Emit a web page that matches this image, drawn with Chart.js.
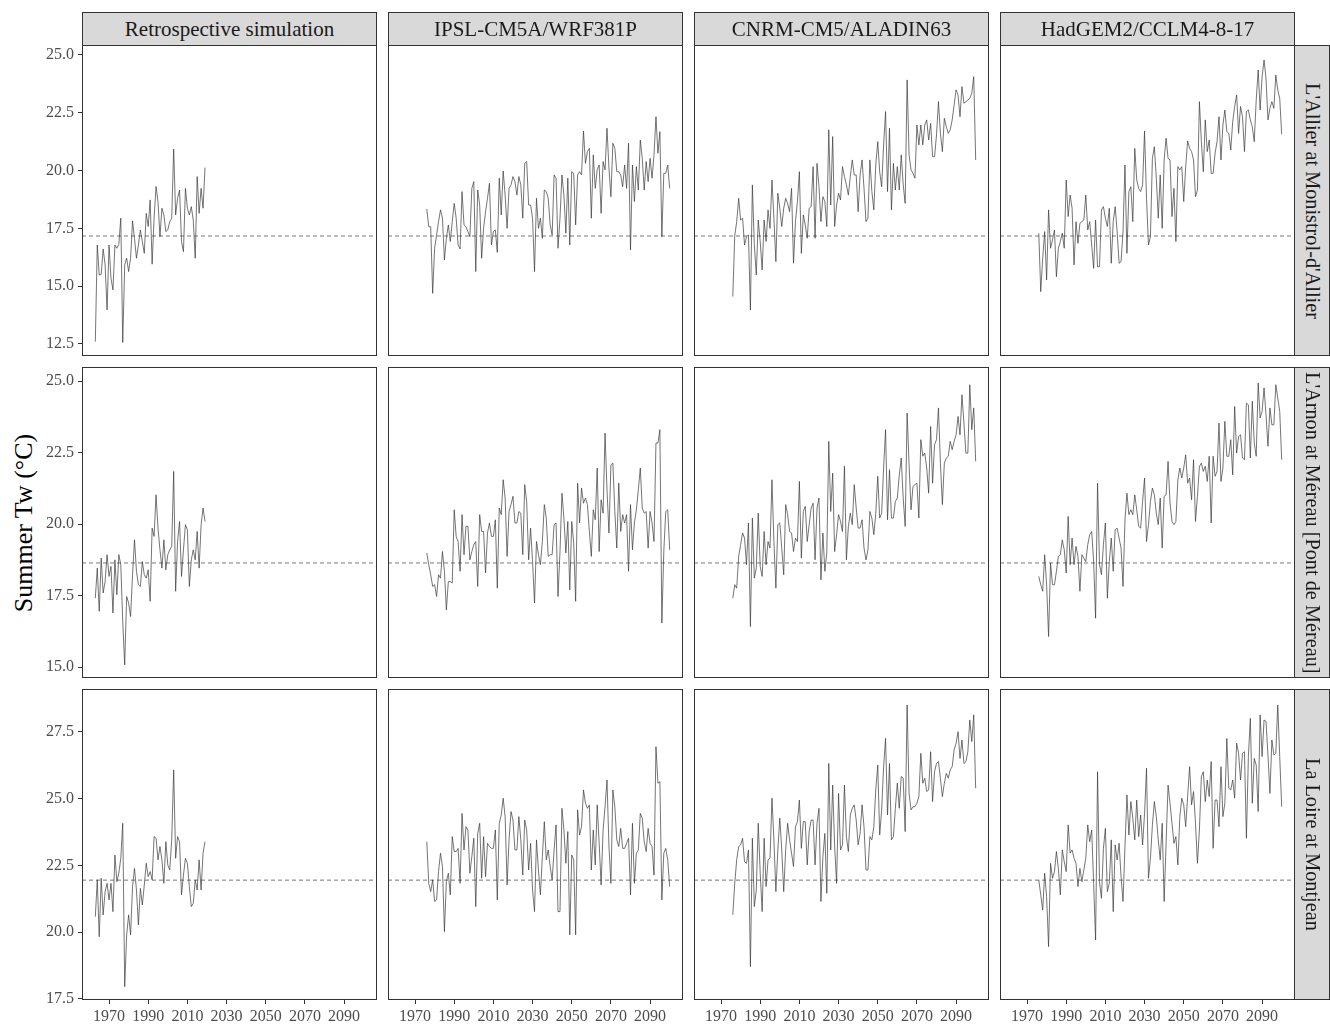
<!DOCTYPE html>
<html>
<head>
<meta charset="utf-8">
<script src="https://cdn.jsdelivr.net/npm/chart.js@4.4.0/dist/chart.umd.min.js"></script>
<style>
  body { margin: 0; background: #fff; font-family: "Liberation Serif", "Times New Roman", serif; }
  #fig { position: relative; width: 1330px; height: 1028px; overflow: hidden; }
  .panel { position: absolute; }
  .strip {
    position: absolute; background: #d9d9d9; border: 1px solid #333; box-sizing: border-box;
    color: #1a1a1a; font-size: 21px; display: flex; align-items: center; justify-content: center;
    white-space: nowrap; overflow: hidden;
  }
  .vstrip { writing-mode: vertical-rl; font-size: 20.3px; }
  #ytitle {
    position: absolute; left: -126px; top: 507px; width: 300px; height: 32px; line-height: 32px;
    text-align: center; font-size: 26px; color: #000; transform: rotate(-90deg);
  }
</style>
</head>
<body>
<div id="fig">
  <div id="ytitle">Summer Tw (°C)</div>
</div>
<script>
// years on the x axis
const yearsRetro = [];
for (let y = 1963; y <= 2019; y++) yearsRetro.push(y);
const yearsProj = [];
for (let y = 1976; y <= 2100; y++) yearsProj.push(y);

const models = ['Retrospective simulation', 'IPSL-CM5A/WRF381P', 'CNRM-CM5/ALADIN63', 'HadGEM2/CCLM4-8-17'];
const stations = ["L'Allier at Monistrol-d'Allier", "L'Arnon at Méreau [Pont de Méreau]", 'La Loire at Montjean'];

// dashed reference level per station
const refLevel = [17.17, 18.64, 21.95];

const xTicks = [1970, 1990, 2010, 2030, 2050, 2070, 2090];
const yTicks = [
  [12.5, 15, 17.5, 20, 22.5, 25],
  [15, 17.5, 20, 22.5, 25],
  [17.5, 20, 22.5, 25, 27.5]
];

// --- L'Allier at Monistrol-d'Allier
const retroAllier = [12.60,16.78,15.48,15.51,16.61,15.92,13.97,16.78,15.34,14.84,
  16.78,16.64,16.81,17.94,12.56,15.92,16.21,15.63,16.21,17.82,
  17.07,16.21,16.78,17.43,16.93,16.42,18.15,17.58,18.73,15.95,
  17.94,19.31,18.66,17.14,18.37,18.08,17.36,17.43,17.79,17.94,
  20.93,18.08,18.80,19.16,16.93,16.49,19.23,18.37,18.08,18.44,
  17.86,16.21,19.74,18.15,19.23,18.37,20.13];
const ipslAllier = [18.34,17.57,17.57,14.69,16.64,17.21,17.79,18.30,17.94,16.13,
  17.07,17.65,16.93,17.79,18.58,17.94,16.78,16.61,19.09,17.65,
  17.57,17.36,17.14,19.23,19.52,15.63,19.16,18.51,16.21,17.50,
  18.22,18.80,19.45,16.78,17.36,17.43,16.46,19.67,18.08,19.98,
  18.94,17.50,19.23,19.38,19.74,19.52,18.94,19.74,19.38,17.94,
  20.31,20.39,18.51,18.51,17.94,15.63,18.80,17.50,17.94,17.07,
  19.16,19.09,18.80,17.65,17.21,19.81,19.67,16.64,17.94,19.81,
  18.94,17.29,19.67,16.78,19.95,19.88,17.65,19.81,19.95,19.81,
  21.71,20.31,20.82,20.96,17.94,20.68,19.23,20.03,20.24,18.15,
  20.39,20.03,21.83,20.10,18.87,21.18,20.96,19.95,19.95,19.81,
  19.30,20.24,19.23,21.18,16.57,20.24,18.66,20.17,19.16,21.32,
  20.53,19.16,20.39,19.52,20.53,19.67,20.68,22.33,20.75,21.68,
  17.14,19.88,19.88,20.24,19.23];
const cnrmAllier = [14.55,17.18,17.79,18.80,17.86,17.94,16.78,17.14,17.21,13.97,
  19.38,16.78,15.48,17.86,16.93,15.70,17.86,16.93,18.30,17.50,
  19.59,17.94,16.06,19.02,18.37,17.58,18.37,18.80,18.58,18.22,
  19.23,15.99,17.79,18.66,19.95,16.42,18.08,17.65,17.07,18.37,
  18.44,20.17,17.07,20.31,19.30,17.79,18.87,18.66,17.58,21.76,
  18.51,21.47,17.58,18.51,19.02,18.73,20.17,19.74,19.38,18.94,
  19.74,20.46,19.81,19.81,18.22,19.81,20.46,19.23,17.79,17.94,
  20.46,19.09,18.30,20.24,21.25,19.95,19.30,21.11,22.55,19.09,
  21.83,18.30,20.31,19.16,20.17,19.16,20.68,19.38,18.58,23.92,
  20.68,20.03,19.88,19.67,21.97,21.11,21.97,21.11,21.97,22.19,
  21.32,22.04,20.60,20.60,21.54,22.98,21.61,20.82,22.26,21.90,
  21.61,21.76,22.19,22.84,23.49,23.27,22.33,23.63,22.91,22.98,
  23.05,23.12,23.34,24.06,20.46];
const hadgemAllier = [17.29,14.76,16.21,17.36,15.27,18.30,16.64,17.00,17.43,15.41,
  16.64,16.93,17.29,16.64,19.59,18.01,18.94,18.37,15.92,17.79,
  16.85,17.72,17.79,17.86,18.94,17.43,17.79,16.78,15.77,17.86,
  15.84,15.84,18.30,18.44,17.94,17.58,18.37,15.99,17.79,18.44,
  17.36,15.99,16.06,17.36,20.24,16.42,19.09,19.30,17.79,20.96,
  19.59,19.23,19.09,19.38,21.71,18.80,16.78,17.14,20.53,21.03,
  19.67,17.94,19.81,17.50,20.46,21.40,20.53,20.46,18.01,19.23,
  16.93,20.17,20.03,20.17,18.66,20.17,21.28,20.96,20.82,20.46,
  18.87,19.16,22.98,21.25,19.95,22.19,20.82,21.32,19.88,19.88,
  20.75,21.25,22.33,20.46,21.97,22.62,21.68,21.61,20.89,22.12,
  22.77,23.27,21.61,22.77,22.33,20.82,22.55,22.62,22.19,21.90,
  21.25,23.05,24.35,22.62,24.06,24.78,23.99,22.19,22.69,22.98,
  22.69,24.13,23.49,23.12,21.57];

// --- L'Arnon at Méreau
const retroArnon = [17.41,18.46,16.95,18.81,17.59,17.99,18.93,18.17,18.52,16.89,
  18.75,17.53,18.93,18.58,16.60,15.08,17.47,17.24,16.77,18.23,
  19.45,18.35,17.88,17.82,18.69,18.23,18.11,18.40,17.30,19.86,
  19.57,21.02,19.86,19.10,18.46,19.45,18.40,18.93,19.10,19.22,
  21.84,17.65,19.39,20.09,18.17,19.10,19.98,19.80,17.82,18.75,
  19.10,18.75,19.74,18.46,19.98,20.56,20.09];
const ipslArnon = [18.99,18.58,18.23,17.82,17.88,17.47,18.23,18.11,19.04,18.35,
  17.00,17.99,17.99,17.94,20.50,19.57,19.39,18.35,20.33,18.93,
  19.92,19.92,18.75,19.04,19.28,19.39,17.82,20.33,19.74,19.74,
  18.29,19.69,20.04,19.57,19.57,20.15,17.76,20.56,20.33,21.55,
  20.91,18.87,20.44,20.68,20.97,20.04,20.04,20.44,20.38,18.93,
  21.38,20.79,18.75,19.86,18.69,17.24,19.39,18.93,18.58,19.39,
  20.68,20.21,18.87,18.93,18.93,19.98,20.04,17.47,19.04,21.08,
  20.21,18.99,20.09,17.70,20.09,19.34,17.30,21.43,20.04,21.26,
  20.73,20.91,20.68,19.74,18.87,20.50,20.15,21.96,19.04,20.85,
  20.38,23.18,21.20,19.69,22.07,22.13,20.44,19.16,21.43,19.74,
  20.33,20.04,20.33,18.35,20.68,19.10,20.04,20.50,21.20,21.96,
  20.56,20.38,20.44,19.16,20.44,20.04,19.39,22.83,22.83,23.30,
  16.54,19.04,20.44,20.50,19.10];
const cnrmArnon = [17.41,17.88,17.76,18.87,19.28,19.69,19.51,18.58,20.04,16.42,
  20.21,18.11,18.46,20.38,18.52,18.17,19.74,18.58,19.39,19.16,
  21.55,19.39,17.76,19.98,20.04,19.16,18.23,20.68,20.33,19.74,
  19.69,19.04,19.51,19.39,21.49,18.81,20.44,20.62,19.39,19.98,
  20.56,20.73,18.75,20.56,20.91,18.05,19.69,18.35,18.99,22.89,
  20.44,21.78,19.04,19.63,20.33,20.09,19.74,22.02,18.75,19.92,
  20.38,19.98,21.38,20.56,19.86,19.86,20.15,19.16,18.75,19.10,
  20.44,20.21,19.63,20.38,21.67,20.21,20.38,21.96,23.30,20.15,
  21.90,20.21,20.21,20.79,20.91,21.72,22.31,20.91,19.92,23.88,
  22.07,20.50,21.32,21.38,21.43,20.21,22.95,22.37,22.48,21.96,
  21.08,23.41,21.43,22.77,22.95,24.06,22.13,20.68,22.13,22.31,
  22.37,22.89,22.60,22.89,23.12,23.76,23.12,24.52,23.53,22.48,
  22.48,24.87,23.30,24.06,22.19];
const hadgemArnon = [18.17,17.88,17.65,18.93,17.88,16.07,18.64,17.88,17.88,18.35,
  18.87,18.93,19.45,19.10,18.29,20.27,18.58,19.51,18.58,19.22,
  18.87,17.65,18.93,18.81,18.69,19.28,19.63,19.74,18.69,16.71,
  21.43,18.58,18.23,19.28,20.04,17.41,18.69,19.51,18.35,19.80,
  19.86,19.51,19.16,17.82,20.15,21.08,20.33,20.50,20.33,21.02,
  20.50,19.92,19.86,20.79,21.61,19.39,19.98,20.79,21.26,21.02,
  20.38,19.98,20.91,19.16,20.97,21.02,22.19,20.73,20.09,19.98,
  20.09,21.55,21.96,21.61,21.96,22.42,21.43,21.61,20.85,22.25,
  20.09,20.97,22.02,22.13,21.84,22.02,21.49,22.37,20.04,22.37,
  21.67,21.84,23.53,21.49,21.96,23.59,22.37,22.37,22.95,21.72,
  24.11,22.48,23.06,23.12,22.31,22.25,24.23,24.17,22.31,24.29,
  22.83,22.37,24.93,23.71,23.94,24.76,23.82,22.72,24.06,23.47,
  23.47,24.87,24.41,23.94,22.25];

// --- La Loire at Montjean
const retroLoire = [20.58,21.96,19.83,22.02,20.65,21.52,21.83,21.21,21.83,20.77,
  22.89,21.89,22.21,22.77,24.08,17.96,19.90,20.65,19.90,21.71,
  22.39,21.58,20.27,21.64,21.02,21.77,22.58,22.08,22.27,21.96,
  23.58,23.52,22.71,23.21,22.71,21.83,23.39,22.52,22.33,23.46,
  26.08,22.77,23.58,23.39,21.40,22.14,22.77,22.58,21.71,20.96,
  21.08,21.96,21.58,22.71,21.58,22.96,23.39];
const ipslLoire = [23.39,21.83,21.52,21.96,21.15,21.21,22.27,22.96,22.46,20.02,
  21.89,22.21,21.40,23.58,23.02,23.02,23.14,21.83,24.45,23.08,
  23.95,23.83,22.21,22.83,23.52,20.96,23.70,24.08,22.02,23.58,
  22.08,23.33,23.21,23.14,23.14,23.83,21.21,24.08,24.39,25.02,
  24.33,21.77,23.46,24.52,24.20,23.08,23.08,24.33,23.46,22.14,
  24.20,23.83,22.33,23.33,21.58,20.77,23.46,22.33,21.40,22.83,
  24.14,22.71,23.08,22.46,21.96,23.08,24.02,20.77,20.77,24.64,
  23.83,22.58,23.77,19.90,22.89,22.71,19.90,24.58,23.64,23.95,
  25.33,24.83,24.64,24.77,22.33,23.83,22.52,24.77,23.33,21.77,
  23.83,24.70,25.70,23.21,21.83,25.33,24.70,23.46,23.21,23.89,
  23.14,23.14,23.33,23.52,21.40,24.08,21.83,22.96,23.08,24.45,
  24.27,23.39,23.02,23.89,23.33,23.21,22.14,26.95,25.58,25.64,
  21.21,22.96,23.14,22.71,21.71];
const cnrmLoire = [20.65,21.83,22.71,23.21,23.27,23.52,22.64,22.58,23.08,18.71,
  23.52,20.96,21.58,24.08,22.21,20.77,23.52,21.71,22.71,22.77,
  25.02,23.46,21.52,23.08,24.27,23.08,21.52,23.08,24.08,23.46,
  22.96,22.46,23.95,24.14,24.95,23.14,24.14,24.14,22.52,23.77,
  24.20,24.20,22.52,24.08,24.64,21.15,22.83,23.70,21.46,26.32,
  23.08,25.51,23.21,21.83,25.20,23.08,23.27,25.51,23.58,23.02,
  24.39,24.64,24.77,24.20,23.27,23.70,24.77,23.95,22.33,22.33,
  23.58,23.46,23.95,25.33,26.26,23.64,24.58,26.20,27.26,24.39,
  26.32,23.46,23.58,24.64,25.58,24.64,25.83,25.77,23.77,28.51,
  25.20,24.58,24.70,24.70,24.83,25.08,26.70,25.58,25.77,25.27,
  25.33,26.76,24.89,26.01,26.32,26.39,25.77,25.08,25.58,25.95,
  25.77,26.08,26.20,26.83,27.08,27.51,26.51,27.20,26.32,26.39,
  26.76,27.95,27.14,28.14,25.39];
const hadgemLoire = [21.96,21.40,20.83,22.21,21.33,19.46,22.58,22.02,22.27,23.02,
  22.39,21.40,23.08,22.64,22.27,24.02,22.96,23.08,22.77,22.58,
  21.71,22.39,21.89,22.33,22.77,24.02,23.39,23.83,21.83,19.71,
  26.01,21.89,21.27,23.14,23.89,21.52,21.83,23.46,20.77,23.27,
  22.71,23.33,22.08,21.15,23.21,25.14,23.64,24.89,24.27,23.46,
  24.95,23.58,24.39,23.27,24.45,26.14,22.02,22.77,24.02,24.89,
  24.33,23.46,22.71,24.08,21.15,23.33,25.51,24.83,24.08,23.33,
  23.58,22.52,24.33,25.02,24.77,23.95,25.08,26.20,24.77,25.27,
  24.08,22.58,23.83,25.83,26.01,24.89,25.70,25.08,26.39,23.14,
  24.95,24.95,23.95,26.20,24.33,24.83,27.26,25.39,25.33,25.70,
  25.02,27.08,26.70,25.70,26.70,26.76,23.52,26.58,28.01,24.83,
  26.51,26.26,24.52,28.14,26.58,27.95,27.89,26.64,25.20,27.20,
  26.64,26.70,28.51,26.58,24.70];

const grid = [
  [retroAllier, ipslAllier, cnrmAllier, hadgemAllier],
  [retroArnon, ipslArnon, cnrmArnon, hadgemArnon],
  [retroLoire, ipslLoire, cnrmLoire, hadgemLoire]
];

// axis limits (ggplot style 5% expansion)
const xMin = 1956.2, xMax = 2106.8;
const yLimits = [[11.98, 25.43], [14.62, 25.49], [17.46, 29.11]];

// layout
const colLeft = [82, 388, 694, 1000];
const rowTop = [45, 367, 689];
const W = 295, H = 311;
const axisW = 50, axisH = 28;
const tickFont = { family: 'Liberation Serif', size: 16 };

const panelBorder = {
  id: 'panelBorder',
  afterDraw(chart) {
    const { ctx, chartArea: a } = chart;
    ctx.save();
    ctx.strokeStyle = '#333';
    ctx.lineWidth = 1;
    ctx.strokeRect(a.left + 0.5, a.top + 0.5, a.width - 1, a.height - 1);
    ctx.restore();
  }
};

const fig = document.getElementById('fig');

const makePanel = (r, c) => {
  const showY = c === 0;
  const showX = r === 2;
  const w = W + (showY ? axisW : 0);
  const h = H + (showX ? axisH : 0);

  const div = document.createElement('div');
  div.className = 'panel';
  div.style.left = (colLeft[c] - (showY ? axisW : 0)) + 'px';
  div.style.top = rowTop[r] + 'px';
  const canvas = document.createElement('canvas');
  canvas.width = w;
  canvas.height = h;
  canvas.style.width = w + 'px';
  canvas.style.height = h + 'px';
  div.appendChild(canvas);
  fig.appendChild(div);

  const values = grid[r][c];
  const years = c === 0 ? yearsRetro : yearsProj;

  new Chart(canvas.getContext('2d'), {
    type: 'line',
    data: {
      datasets: [
        {
          data: years.map((yr, i) => ({ x: yr, y: values[i] })),
          borderColor: '#3a3a3a',
          borderWidth: 0.7,
          pointRadius: 0,
          tension: 0
        },
        {
          data: [{ x: xMin, y: refLevel[r] }, { x: xMax, y: refLevel[r] }],
          borderColor: '#555',
          borderWidth: 0.8,
          borderDash: [4, 3],
          pointRadius: 0
        }
      ]
    },
    options: {
      responsive: false,
      animation: false,
      devicePixelRatio: 1,
      layout: { padding: 0 },
      plugins: { legend: { display: false }, tooltip: { enabled: false } },
      scales: {
        x: {
          type: 'linear',
          display: showX,
          min: xMin,
          max: xMax,
          afterBuildTicks: s => { s.ticks = xTicks.map(v => ({ value: v })); },
          afterFit: s => {
            s.height = showX ? axisH : 0;
            s.paddingLeft = 0; s.paddingRight = 0;
          },
          ticks: { font: tickFont, color: '#4d4d4d', padding: 3, maxRotation: 0, callback: v => String(v) },
          grid: { drawOnChartArea: false, drawTicks: true, tickLength: 4, tickColor: '#333' },
          border: { display: false }
        },
        y: {
          display: showY,
          min: yLimits[r][0],
          max: yLimits[r][1],
          afterBuildTicks: s => { s.ticks = yTicks[r].map(v => ({ value: v })); },
          afterFit: s => {
            s.width = showY ? axisW : 0;
            s.paddingTop = 0; s.paddingBottom = 0;
          },
          ticks: { font: tickFont, color: '#4d4d4d', padding: 4, callback: v => v.toFixed(1) },
          grid: { drawOnChartArea: false, drawTicks: true, tickLength: 4, tickColor: '#333' },
          border: { display: false }
        }
      }
    },
    plugins: [panelBorder]
  });
};

for (let r = 0; r < 3; r++) {
  for (let c = 0; c < 4; c++) makePanel(r, c);
}

// facet strips
models.forEach((m, c) => {
  const s = document.createElement('div');
  s.className = 'strip';
  s.style.left = colLeft[c] + 'px';
  s.style.top = '12px';
  s.style.width = W + 'px';
  s.style.height = '34px';
  s.textContent = m;
  fig.appendChild(s);
});
stations.forEach((name, r) => {
  const s = document.createElement('div');
  s.className = 'strip vstrip';
  s.style.left = (colLeft[3] + W - 1) + 'px';
  s.style.top = rowTop[r] + 'px';
  s.style.width = '36px';
  s.style.height = H + 'px';
  s.textContent = name;
  fig.appendChild(s);
});
</script>
</body>
</html>
